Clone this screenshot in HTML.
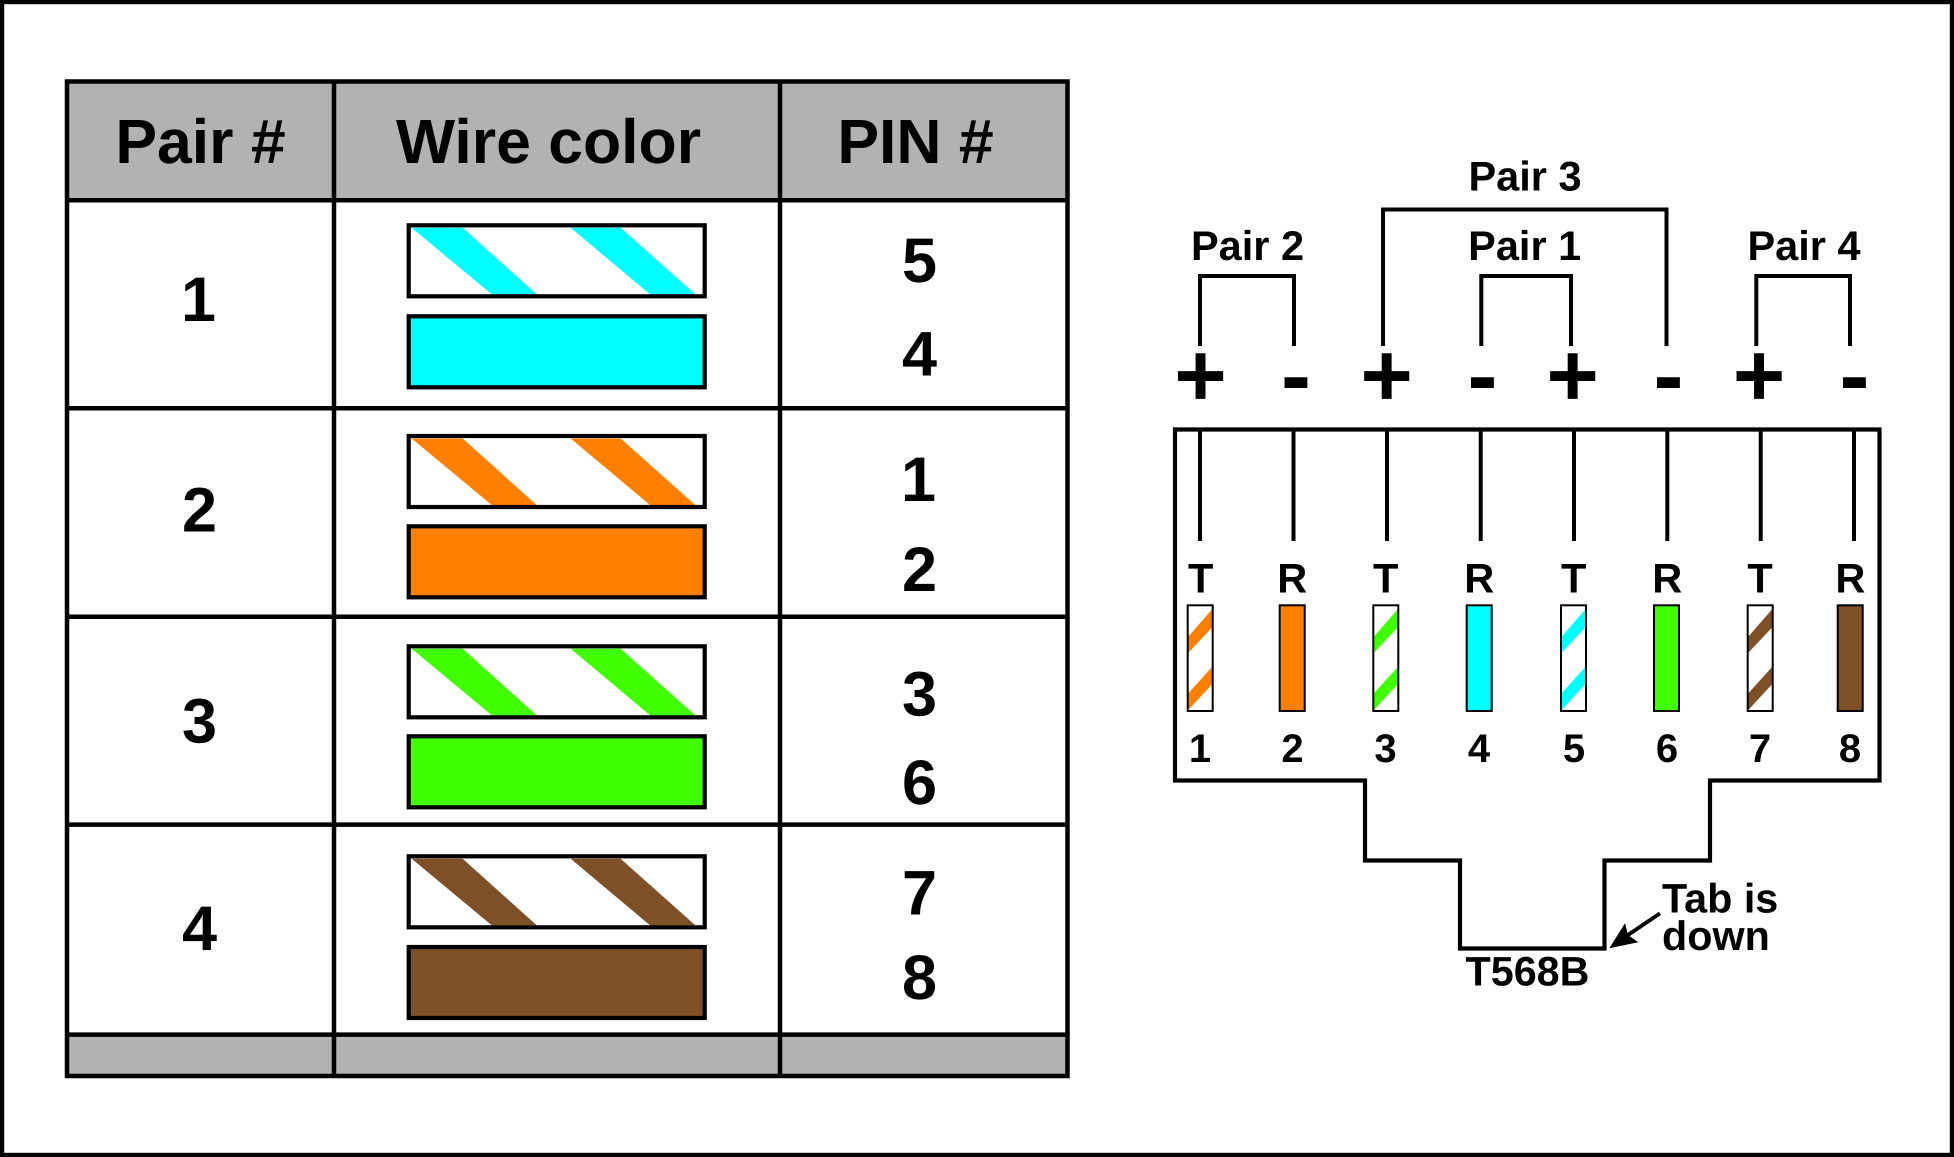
<!DOCTYPE html>
<html lang="en">
<head>
<meta charset="utf-8">
<title>T568B wiring diagram</title>
<style>
html,body{margin:0;padding:0;background:#fff;width:1954px;height:1157px;overflow:hidden}
svg{display:block}
text{font-family:"Liberation Sans",Arial,sans-serif;font-weight:bold;fill:#000;text-anchor:middle;text-rendering:geometricPrecision}
.h{font-size:62.5px}
.n{font-size:63px}
.p{font-size:41.5px}
.s{font-size:90px}
.d{font-size:40px}
.t{font-size:41.3px}
.l{fill:none;stroke:#000}
</style>
</head>
<body>
<svg width="1954" height="1157" viewBox="0 0 1954 1157" xmlns="http://www.w3.org/2000/svg">
<rect x="0" y="0" width="1954" height="1157" fill="#fff"/>
<rect x="2" y="2" width="1950" height="1153" class="l" stroke-width="4.4"/>

<!-- table -->
<rect x="67" y="81.5" width="1000.5" height="118.5" fill="#b2b2b2"/>
<rect x="67" y="1034.5" width="1000.5" height="41.5" fill="#b2b2b2"/>
<g class="l" stroke-width="4.5">
<rect x="67" y="81.5" width="1000.5" height="994.5" class="l"/>
<path class="l" d="M334 81.5V1076M780 81.5V1076M67 200.2H1067.5M67 408.2H1067.5M67 616.8H1067.5M67 824.6H1067.5M67 1034.6H1067.5"/>
</g>

<text class="h" x="200.5" y="163">Pair #</text>
<text class="h" x="548.5" y="163">Wire color</text>
<text class="h" x="915.5" y="163">PIN #</text>

<text class="n" x="198.5" y="321">1</text>
<text class="n" x="199.5" y="531.5">2</text>
<text class="n" x="199.5" y="742.5">3</text>
<text class="n" x="199.5" y="950">4</text>

<text class="n" x="919.5" y="282">5</text>
<text class="n" x="919.5" y="375.7">4</text>
<text class="n" x="918.5" y="501.2">1</text>
<text class="n" x="919.5" y="590.8">2</text>
<text class="n" x="919.5" y="715.5">3</text>
<text class="n" x="919.5" y="804">6</text>
<text class="n" x="919.5" y="914.3">7</text>
<text class="n" x="919.5" y="999">8</text>

<!-- wire swatches -->
<g transform="translate(0,223.3)">
<polygon fill="#00ffff" points="411.7,4.5 462.7,4.5 536.7,71 491.7,71"/>
<polygon fill="#00ffff" points="570.7,4.5 620.7,4.5 695.3,71 650,71"/>
<rect x="408.7" y="2" width="296" height="71" class="l" stroke-width="4.2"/>
<rect x="408.7" y="93" width="296" height="71" fill="#00ffff" stroke="#000" stroke-width="4.2"/>
</g>
<g transform="translate(0,434)">
<polygon fill="#ff8000" points="411.7,4.5 462.7,4.5 536.7,71 491.7,71"/>
<polygon fill="#ff8000" points="570.7,4.5 620.7,4.5 695.3,71 650,71"/>
<rect x="408.7" y="2" width="296" height="71" class="l" stroke-width="4.2"/>
<rect x="408.7" y="92.3" width="296" height="71" fill="#ff8000" stroke="#000" stroke-width="4.2"/>
</g>
<g transform="translate(0,644.3)">
<polygon fill="#40ff00" points="411.7,4.5 462.7,4.5 536.7,71 491.7,71"/>
<polygon fill="#40ff00" points="570.7,4.5 620.7,4.5 695.3,71 650,71"/>
<rect x="408.7" y="2" width="296" height="71" class="l" stroke-width="4.2"/>
<rect x="408.7" y="92" width="296" height="71" fill="#40ff00" stroke="#000" stroke-width="4.2"/>
</g>
<g transform="translate(0,854.3)">
<polygon fill="#7f4f28" points="411.7,4.5 462.7,4.5 536.7,71 491.7,71"/>
<polygon fill="#7f4f28" points="570.7,4.5 620.7,4.5 695.3,71 650,71"/>
<rect x="408.7" y="2" width="296" height="71" class="l" stroke-width="4.2"/>
<rect x="408.7" y="92.7" width="296" height="71" fill="#7f4f28" stroke="#000" stroke-width="4.2"/>
</g>

<!-- connector outline -->
<path class="l" stroke-width="4.2" d="M1175 429.5H1879.5V780.5H1710V860.5H1604.5V948.5H1460V860.5H1365V780.5H1175Z"/>

<!-- pair brackets -->
<g class="l" stroke-width="4">
<path class="l" d="M1200 346V276H1294V346"/>
<path class="l" d="M1383 346V209.5H1666.5V346"/>
<path class="l" d="M1481.3 346V276H1571V346"/>
<path class="l" d="M1756.3 346V276H1850V346"/>
<path class="l" d="M1200 430V541M1293.5 430V541M1387 430V541M1480.7 430V541M1574 430V541M1667.3 430V541M1760.7 430V541M1854 430V541"/>
</g>

<text class="p" x="1247.5" y="260">Pair 2</text>
<text class="p" x="1525" y="190.7">Pair 3</text>
<text class="p" x="1524.7" y="260">Pair 1</text>
<text class="p" x="1804" y="260">Pair 4</text>

<text class="s" x="1200.5" y="406">+</text>
<text class="s" x="1296" y="406">-</text>
<text class="s" x="1386.7" y="406">+</text>
<text class="s" x="1482.5" y="406">-</text>
<text class="s" x="1572.7" y="406">+</text>
<text class="s" x="1668.5" y="406">-</text>
<text class="s" x="1759" y="406">+</text>
<text class="s" x="1854.5" y="406">-</text>

<text class="p" x="1200.7" y="592.7">T</text>
<text class="p" x="1292.2" y="592.7">R</text>
<text class="p" x="1385.7" y="592.7">T</text>
<text class="p" x="1479.2" y="592.7">R</text>
<text class="p" x="1573.7" y="592.7">T</text>
<text class="p" x="1667.2" y="592.7">R</text>
<text class="p" x="1760" y="592.7">T</text>
<text class="p" x="1850.4" y="592.7">R</text>

<!-- small wires -->
<g transform="translate(1186.7,604.3)">
<polygon fill="#ff8000" points="25.6,4.7 25.6,23 1.6,48.4 1.6,32.4"/>
<polygon fill="#ff8000" points="25.6,62.4 25.6,79.7 1.6,105.7 1.6,89"/>
<rect x="1" y="1" width="25" height="105.7" class="l" stroke-width="2"/>
</g>
<rect x="1279.7" y="605.3" width="25" height="105.7" fill="#ff8000" stroke="#000" stroke-width="2"/>
<g transform="translate(1372.3,604.3)">
<polygon fill="#40ff00" points="25.6,4.7 25.6,23 1.6,48.4 1.6,32.4"/>
<polygon fill="#40ff00" points="25.6,62.4 25.6,79.7 1.6,105.7 1.6,89"/>
<rect x="1" y="1" width="25" height="105.7" class="l" stroke-width="2"/>
</g>
<rect x="1466.7" y="605.3" width="25" height="105.7" fill="#00ffff" stroke="#000" stroke-width="2"/>
<g transform="translate(1560,604.3)">
<polygon fill="#00ffff" points="25.6,4.7 25.6,23 1.6,48.4 1.6,32.4"/>
<polygon fill="#00ffff" points="25.6,62.4 25.6,79.7 1.6,105.7 1.6,89"/>
<rect x="1" y="1" width="25" height="105.7" class="l" stroke-width="2"/>
</g>
<rect x="1654" y="605.3" width="25" height="105.7" fill="#40ff00" stroke="#000" stroke-width="2"/>
<g transform="translate(1746.7,604.3)">
<polygon fill="#7f4f28" points="25.6,4.7 25.6,23 1.6,48.4 1.6,32.4"/>
<polygon fill="#7f4f28" points="25.6,62.4 25.6,79.7 1.6,105.7 1.6,89"/>
<rect x="1" y="1" width="25" height="105.7" class="l" stroke-width="2"/>
</g>
<rect x="1837.7" y="605.3" width="25" height="105.7" fill="#7f4f28" stroke="#000" stroke-width="2"/>

<text class="d" x="1200" y="762.2">1</text>
<text class="d" x="1292.5" y="762.2">2</text>
<text class="d" x="1385.5" y="762.2">3</text>
<text class="d" x="1479" y="762.2">4</text>
<text class="d" x="1574" y="762.2">5</text>
<text class="d" x="1667" y="762.2">6</text>
<text class="d" x="1760" y="762.2">7</text>
<text class="d" x="1850" y="762.2">8</text>

<text class="t" x="1527.5" y="985.7">T568B</text>
<text class="t" x="1662" y="912.7" style="text-anchor:start">Tab is</text>
<text class="t" x="1662" y="950" style="text-anchor:start">down</text>

<!-- arrow -->
<line x1="1660" y1="913.3" x2="1628" y2="935" stroke="#000" stroke-width="3.8"/>
<polygon points="1609.3,948.3 1625,923.3 1628,935 1638.3,942.3" fill="#000"/>
</svg>
</body>
</html>
